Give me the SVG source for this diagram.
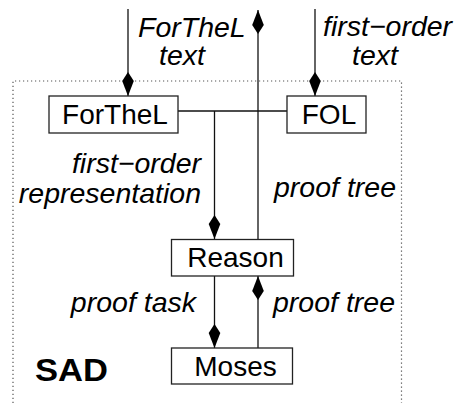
<svg xmlns="http://www.w3.org/2000/svg" width="458" height="403" viewBox="0 0 458 403">
<style>
.box{fill:#fff;stroke:#222;stroke-width:1.3}
.lbl{font-family:"Liberation Sans",Arial,sans-serif;font-size:28px;fill:#000}
.it{font-family:"Liberation Sans",Arial,sans-serif;font-size:28.5px;font-style:italic;fill:#000}
.edge{stroke:#111;stroke-width:1.3;fill:none}
.dot{stroke:#555;stroke-width:1.2;fill:none;stroke-dasharray:1.2 2.8}
</style>
<defs>
<marker id="dia" markerUnits="userSpaceOnUse" markerWidth="30" markerHeight="14" refX="0" refY="0" orient="auto" overflow="visible">
<path d="M0,0 L-15,-5.8 L-24,0 L-15,5.8 Z" fill="#000"/>
</marker>
</defs>
<path class="dot" d="M13,403 V81 H401.5 V403"/>
<g id="connectors">
<line class="edge" x1="128" y1="9" x2="128" y2="96" marker-end="url(#dia)"/>
<line class="edge" x1="315" y1="9" x2="315" y2="96" marker-end="url(#dia)"/>
<line class="edge" x1="258" y1="239" x2="258" y2="10" marker-end="url(#dia)"/>
<line class="edge" x1="178" y1="111" x2="287" y2="111"/>
<line class="edge" x1="214.5" y1="111" x2="214.5" y2="239" marker-end="url(#dia)"/>
<line class="edge" x1="214.5" y1="276" x2="214.5" y2="348" marker-end="url(#dia)"/>
<line class="edge" x1="258" y1="348" x2="258" y2="276" marker-end="url(#dia)"/>
<text class="it" x="138" y="37">ForTheL</text>
<text class="it" x="159" y="65">text</text>
<text class="it" x="323" y="36">first−order</text>
<text class="it" x="352" y="65">text</text>
<text class="it" x="201" y="173" text-anchor="end">first−order</text>
<text class="it" x="201" y="203" text-anchor="end">representation</text>
<text class="it" x="274" y="197">proof tree</text>
<text class="it" x="196" y="312" text-anchor="end">proof task</text>
<text class="it" x="273" y="312">proof tree</text>
</g>
<g id="forthel">
<rect class="box" x="49" y="96" width="129" height="37"/>
<text class="lbl" x="115" y="123.5" text-anchor="middle">ForTheL</text>
</g>
<g id="fol">
<rect class="box" x="287" y="96" width="79" height="37"/>
<text class="lbl" x="329" y="123.5" text-anchor="middle">FOL</text>
</g>
<g id="reason">
<rect class="box" x="171.5" y="239.5" width="122" height="36.5"/>
<text class="lbl" x="235.5" y="267" text-anchor="middle">Reason</text>
</g>
<g id="moses">
<rect class="box" x="171.5" y="348" width="121" height="36"/>
<text class="lbl" x="235.5" y="376" text-anchor="middle">Moses</text>
</g>
<g id="sad">
<text x="35" y="381" font-family="'Liberation Sans',Arial,sans-serif" font-weight="bold" font-size="31" textLength="73" lengthAdjust="spacingAndGlyphs">SAD</text>
</g>
</svg>
